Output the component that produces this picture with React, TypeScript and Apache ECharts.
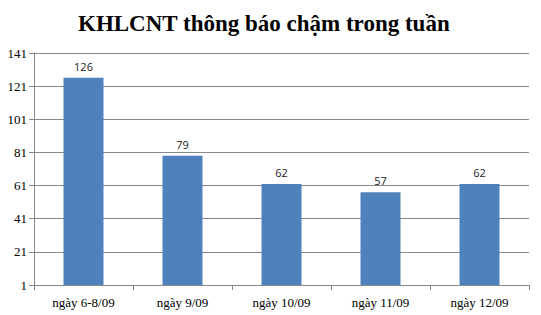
import React, { useEffect, useRef } from "react";
import * as echarts from "echarts";

const titleText = "KHLCNT thông báo chậm trong tuần";
const categories = ["ngày 6-8/09", "ngày 9/09", "ngày 10/09", "ngày 11/09", "ngày 12/09"];
const values = [126, 79, 62, 57, 62];
const axisMin = 1;
const axisMax = 141;

export default function App() {
  const ref = useRef<HTMLDivElement>(null);
  useEffect(() => {
    if (!ref.current) return;
    const chart = echarts.init(ref.current, null, { renderer: "svg" });
    chart.setOption({
      animation: false,
      backgroundColor: "#ffffff",
      title: {
        text: titleText,
        left: 73,
        top: 7,
        textStyle: {
          fontFamily: "Liberation Serif",
          fontWeight: "bold",
          fontSize: 23,
          color: "#000000",
        },
      },
      grid: { left: 34, right: 12, top: 53, bottom: 30, containLabel: false },
      xAxis: {
        type: "category",
        data: categories,
        boundaryGap: true,
        axisLine: { lineStyle: { color: "#888888", width: 1 } },
        axisTick: { show: true, length: 5, lineStyle: { color: "#888888" } },
        axisLabel: {
          fontFamily: "Liberation Serif",
          fontSize: 13,
          color: "#000000",
          margin: 11,
        },
      },
      yAxis: [
        {
          type: "value",
          min: axisMin,
          max: axisMax,
          show: false,
          splitLine: { show: false },
        },
        {
          type: "value",
          min: 0,
          max: axisMax - axisMin,
          interval: 20,
          position: "left",
          axisLine: { show: true, lineStyle: { color: "#888888" } },
          axisTick: { show: true, length: 5, lineStyle: { color: "#888888" } },
          splitLine: { show: true, lineStyle: { color: "#888888", width: 1 } },
          axisLabel: {
            fontFamily: "Liberation Serif",
            fontSize: 13,
            color: "#000000",
            margin: 7,
            formatter: (v: number) => String(v + axisMin),
          },
        },
      ],
      series: [
        {
          type: "bar",
          yAxisIndex: 0,
          data: values,
          barWidth: 40,
          itemStyle: { color: "#4F81BD" },
          label: {
            show: true,
            position: "top",
            distance: 6,
            fontFamily: "Open Sans",
            fontSize: 11,
            color: "#222222",
          },
        },
      ],
    });
    return () => chart.dispose();
  }, []);
  return <div ref={ref} style={{ width: 541, height: 315, position: "absolute", left: 0, top: 0 }} />;
}
